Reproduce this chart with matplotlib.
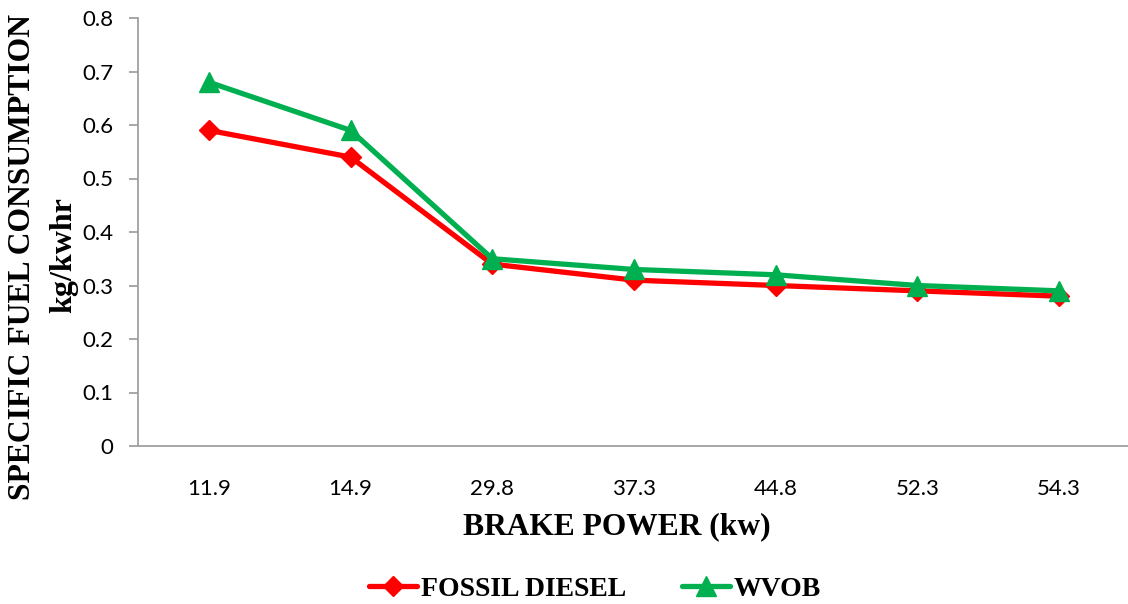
import matplotlib
matplotlib.use("Agg")
import matplotlib.pyplot as plt

categories = ["11.9", "14.9", "29.8", "37.3", "44.8", "52.3", "54.3"]
fossil_diesel = [0.59, 0.54, 0.34, 0.31, 0.30, 0.29, 0.28]
wvob = [0.68, 0.59, 0.35, 0.33, 0.32, 0.30, 0.29]
yticks = [0, 0.1, 0.2, 0.3, 0.4, 0.5, 0.6, 0.7, 0.8]
ytick_labels = ["0", "0.1", "0.2", "0.3", "0.4", "0.5", "0.6", "0.7", "0.8"]

fig = plt.figure(figsize=(11.28, 6.04), dpi=100)
ax = fig.add_axes([138/1128, 1-446/604, (1130-138)/1128, (446-18)/604])

x = list(range(len(categories)))
l1, = ax.plot(x, fossil_diesel, color="#FF0000", lw=3.8, marker="D", markersize=10,
              markeredgewidth=1, label="FOSSIL DIESEL", solid_capstyle="round")
l2, = ax.plot(x, wvob, color="#00B050", lw=3.8, marker="^", markersize=14,
              markeredgewidth=1, label="WVOB", solid_capstyle="round")

ax.set_xlim(-0.5, len(categories) - 0.5)
ax.set_ylim(0, 0.8)
ax.set_yticks(yticks)
ax.set_yticklabels(ytick_labels)
ax.set_xticks(x)
ax.set_xticklabels(categories)
for s in ["top", "right"]:
    ax.spines[s].set_visible(False)
for s in ["left", "bottom"]:
    ax.spines[s].set_color("#A0A0A0")
    ax.spines[s].set_linewidth(1.3)
ax.tick_params(axis="y", direction="out", length=6.5, color="#A0A0A0", width=1.3, labelsize=16, pad=11)
ax.tick_params(axis="x", length=0, labelsize=16, pad=24)
for lab in ax.get_xticklabels() + ax.get_yticklabels():
    lab.set_fontfamily("Lato")

serif = "Liberation Serif"
fig.text(617/1128, 1-527/604, "BRAKE POWER (kw)", ha="center", va="center",
         fontfamily=serif, fontweight="bold", fontsize=22.7)
fig.text(23/1128, 1-257/604, "SPECIFIC FUEL CONSUMPTION", ha="center", va="center", rotation=90,
         fontfamily=serif, fontweight="bold", fontsize=22.8)
fig.text(64/1128, 1-255/604, "kg/kwhr", ha="center", va="center", rotation=90,
         fontfamily=serif, fontweight="bold", fontsize=23)

leg = fig.legend(handles=[l1, l2], loc="center", bbox_to_anchor=(595/1128, 1-589/604), ncol=2,
                 frameon=False, handlelength=1.73, handletextpad=0.15, columnspacing=2.0,
                 borderpad=0, prop={"family": serif, "weight": "bold", "size": 20})

fig.savefig("out.png", dpi=100)
